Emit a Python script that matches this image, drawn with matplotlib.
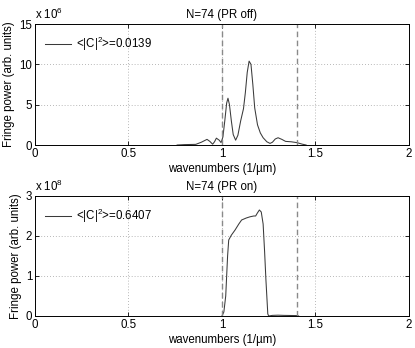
"""
Fringe power spectra, PR off vs PR on (two stacked panels).
"""

import matplotlib
matplotlib.use("Agg")
import matplotlib.pyplot as plt

plt.rcParams["font.family"] = ["Liberation Sans", "DejaVu Sans"]
plt.rcParams["mathtext.fontset"] = "custom"
plt.rcParams["mathtext.rm"] = "Liberation Sans"
plt.rcParams["mathtext.it"] = "Liberation Sans"
FS = 8.3

# Data (wavenumber in 1/um, power in units of the axis exponent) -----------
wn_off = [0.76, 0.80, 0.86, 0.89, 0.92, 0.935, 0.95, 0.96, 0.97, 0.985,
          0.995, 1.005, 1.015, 1.025, 1.032, 1.04, 1.05, 1.06, 1.073, 1.085,
          1.10, 1.115, 1.125, 1.135, 1.145, 1.155, 1.165, 1.175, 1.19, 1.205,
          1.22, 1.24, 1.257, 1.27, 1.285, 1.30, 1.32, 1.34, 1.37, 1.40,
          1.43, 1.45]
pw_off = [0.0, 0.05, 0.08, 0.35, 0.7, 0.45, 0.1, 0.4, 0.85, 0.6,
          0.3, 1.0, 3.0, 5.2, 5.8, 5.0, 3.0, 1.3, 0.6, 1.2,
          3.0, 4.5, 6.5, 9.0, 10.4, 10.0, 7.5, 4.6, 2.5, 1.5,
          0.9, 0.4, 0.2, 0.35, 0.75, 0.9, 0.7, 0.45, 0.4, 0.3,
          0.1, 0.0]

wn_on = [1.00, 1.01, 1.02, 1.03, 1.036, 1.05, 1.07, 1.09, 1.105, 1.13,
         1.15, 1.17, 1.18, 1.19, 1.20, 1.21, 1.22, 1.228, 1.235, 1.245,
         1.25, 1.27, 1.30, 1.33, 1.40, 1.41]
pw_on = [0.0, 0.1, 0.5, 1.5, 1.9, 2.02, 2.15, 2.3, 2.4, 2.45,
         2.48, 2.5, 2.5, 2.58, 2.65, 2.6, 2.3, 1.6, 0.9, 0.05,
         0.0, 0.015, 0.02, 0.015, 0.01, 0.0]

panels = [
    dict(x=wn_off, y=pw_off, title="N=74 (PR off)", ymax=15, yticks=[0, 5, 10, 15],
         exp="6", label=r"<|C|$^2$>=0.0139", rect=[0.0843, 0.5833, 0.9012, 0.3477]),
    dict(x=wn_on, y=pw_on, title="N=74 (PR on)", ymax=3, yticks=[0, 1, 2, 3],
         exp="8", label=r"<|C|$^2$>=0.6407", rect=[0.0843, 0.0920, 0.9012, 0.3448]),
]
band = [1.0, 1.4]   # band edges drawn as dashed lines


def main():
    fig = plt.figure(figsize=(4.15, 3.48), dpi=100)

    for p in panels:
        ax = fig.add_axes(p["rect"])
        ax.plot(p["x"], p["y"], color="#3a3a3a", lw=0.75, label=p["label"])
        for b in band:
            ax.axvline(b, color="#8a8a8a", lw=1.0, dashes=(4, 2.5))
        ax.set_xlim(0, 2)
        ax.set_ylim(0, p["ymax"])
        ax.set_xticks([0, 0.5, 1, 1.5, 2])
        ax.set_xticklabels(["0", "0.5", "1", "1.5", "2"])
        ax.set_yticks(p["yticks"])
        ax.grid(True, ls=(0, (1, 2.5)), color="#a0a0a0", lw=0.6)
        ax.tick_params(direction="in", length=3, width=0.6, top=True, right=True,
                       labelsize=FS, pad=2)
        for s in ax.spines.values():
            s.set_linewidth(0.7)
        ax.set_title(p["title"], fontsize=FS, pad=4)
        ax.set_xlabel("wavenumbers (1/\u00b5m)", fontsize=FS, labelpad=2)
        ax.set_ylabel("Fringe power (arb. units)", fontsize=FS, labelpad=3)
        ax.text(0.0, 1.015, r"x 10$^{%s}$" % p["exp"], transform=ax.transAxes,
                fontsize=FS, ha="left", va="bottom")
        ax.legend(loc="upper left", frameon=False, fontsize=FS, handlelength=2.2,
                  handletextpad=0.5, borderaxespad=0.5, borderpad=0.4)

    fig.savefig("out.png", dpi=100)


if __name__ == "__main__":
    main()
